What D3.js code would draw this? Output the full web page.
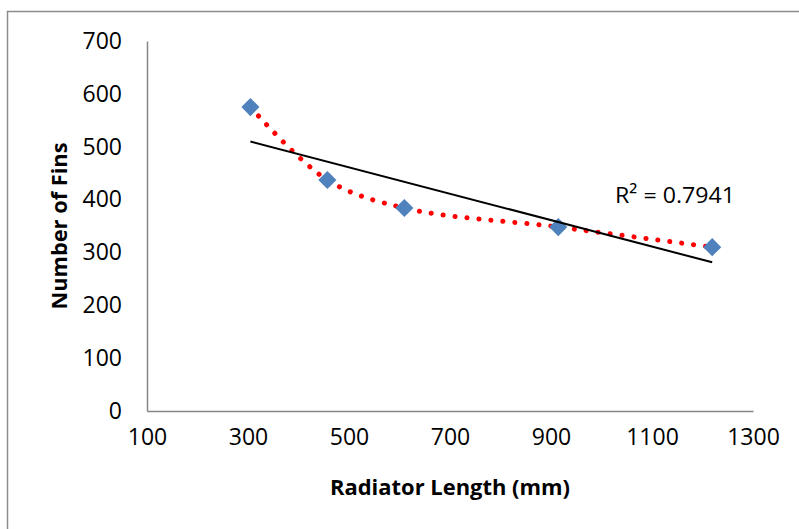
<!DOCTYPE html>
<html>
<head>
<meta charset="utf-8">
<script src="https://cdn.jsdelivr.net/npm/d3@7"></script>
<style>
  body { margin: 0; background: #fff; }
  svg { display: block; font-family: "Open Sans", sans-serif; }
</style>
</head>
<body>
<div id="chart"></div>
<script>
// radiator data
const lengthMm = [304.8, 457.2, 609.6, 914.4, 1219.2];
const fins = [575, 437, 384, 348, 310];
const xTicks = [100, 300, 500, 700, 900, 1100, 1300];
const yTicks = [0, 100, 200, 300, 400, 500, 600, 700];
const r2Label = "R\u00B2 = 0.7941";

const width = 799, height = 529;
const plot = { left: 147, right: 753, top: 41, bottom: 411 };

const svg = d3.select("#chart").append("svg")
    .attr("width", width)
    .attr("height", height);

// outer chart frame
svg.append("rect")
    .attr("x", 7.5).attr("y", 11.5)
    .attr("width", 800).attr("height", 530)
    .attr("fill", "none")
    .attr("stroke", "#8c8c8c")
    .attr("stroke-width", 1.5);

const x = d3.scaleLinear().domain([100, 1300]).range([plot.left, plot.right]);
const y = d3.scaleLinear().domain([0, 700]).range([plot.bottom, plot.top]);

// axes
const xAxis = svg.append("g")
    .attr("transform", `translate(0,${plot.bottom})`)
    .call(d3.axisBottom(x).tickValues(xTicks).tickFormat(d3.format("d")).tickSize(0).tickPadding(18));
const yAxis = svg.append("g")
    .attr("transform", `translate(${plot.left},0)`)
    .call(d3.axisLeft(y).tickValues(yTicks).tickFormat(d3.format("d")).tickSize(0).tickPadding(25));

[xAxis, yAxis].forEach(g => {
    g.select(".domain").attr("stroke", "#868686").attr("stroke-width", 1.5);
    g.selectAll("text")
        .attr("font-family", "'Open Sans', sans-serif")
        .attr("font-size", 23)
        .attr("fill", "#000");
});

// series: smoothed dotted red line
const pts = lengthMm.map((d, i) => [d, fins[i]]);
const smooth = d3.line()
    .x(d => x(d[0]))
    .y(d => y(d[1]))
    .curve(d3.curveCatmullRom.alpha(0.5));

svg.append("path")
    .attr("d", smooth(pts))
    .attr("fill", "none")
    .attr("stroke", "#ff0000")
    .attr("stroke-width", 5)
    .attr("stroke-linecap", "round")
    .attr("stroke-dasharray", "0.1 11.9");

// markers
svg.append("g").selectAll("path")
    .data(pts)
    .enter()
    .append("path")
    .attr("d", d3.symbol().type(d3.symbolDiamond2).size(210))
    .attr("transform", d => `translate(${x(d[0])},${y(d[1])})`)
    .attr("fill", "#4f81bd");

// linear trendline
const xm = d3.mean(lengthMm), ym = d3.mean(fins);
const sxy = d3.sum(lengthMm, (d, i) => (d - xm) * (fins[i] - ym));
const sxx = d3.sum(lengthMm, d => (d - xm) * (d - xm));
const slope = sxy / sxx, icpt = ym - slope * xm;
const xExt = d3.extent(lengthMm);

svg.append("line")
    .attr("x1", x(xExt[0])).attr("y1", y(icpt + slope * xExt[0]))
    .attr("x2", x(xExt[1])).attr("y2", y(icpt + slope * xExt[1]))
    .attr("stroke", "#000")
    .attr("stroke-width", 2);

svg.append("text")
    .attr("x", 615).attr("y", 203)
    .attr("font-size", 22.5)
    .attr("textLength", 120)
    .attr("lengthAdjust", "spacingAndGlyphs")
    .text(r2Label);

// axis titles
svg.append("text")
    .attr("x", 450)
    .attr("y", 495)
    .attr("text-anchor", "middle")
    .attr("font-size", 21)
    .attr("font-weight", "bold")
    .attr("textLength", 240)
    .attr("lengthAdjust", "spacingAndGlyphs")
    .text("Radiator Length (mm)");

svg.append("text")
    .attr("transform", "translate(67,226) rotate(-90)")
    .attr("text-anchor", "middle")
    .attr("font-size", 21)
    .attr("font-weight", "bold")
    .attr("textLength", 167)
    .attr("lengthAdjust", "spacingAndGlyphs")
    .text("Number of Fins");
</script>
</body>
</html>
